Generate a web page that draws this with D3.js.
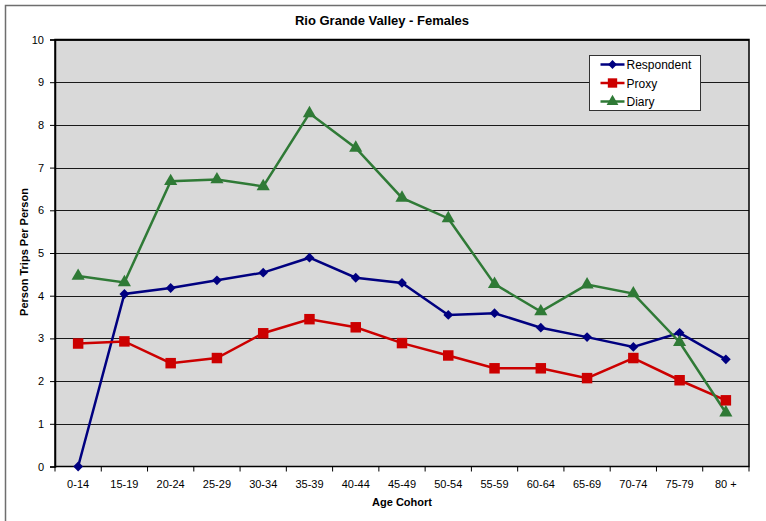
<!DOCTYPE html>
<html>
<head>
<meta charset="utf-8">
<script src="https://cdn.jsdelivr.net/npm/d3@7"></script>
<style>
  body { margin: 0; background: #fff; }
  text { font-family: "Liberation Sans", Arial, sans-serif; }
</style>
</head>
<body>
<div id="chart"></div>
<script>
var categories = ["0-14", "15-19", "20-24", "25-29", "30-34", "35-39", "40-44", "45-49", "50-54", "55-59", "60-64", "65-69", "70-74", "75-79", "80 +"];
var respondent = [0, 4.04, 4.18, 4.36, 4.54, 4.89, 4.42, 4.30, 3.55, 3.59, 3.25, 3.03, 2.80, 3.13, 2.51];
var proxy = [2.88, 2.93, 2.42, 2.54, 3.12, 3.45, 3.26, 2.89, 2.60, 2.30, 2.30, 2.07, 2.54, 2.02, 1.55];
var diary = [4.46, 4.31, 6.68, 6.72, 6.56, 8.27, 7.46, 6.29, 5.81, 4.27, 3.63, 4.26, 4.05, 2.91, 1.26];
var yTicks = [0, 1, 2, 3, 4, 5, 6, 7, 8, 9, 10];

// diamond = square turned 45 degrees
var series = [
    {name: "Respondent", values: respondent, color: "#000080", shape: d3.symbolSquare, size: 48, rot: 45},
    {name: "Proxy", values: proxy, color: "#cc0000", shape: d3.symbolSquare, size: 110, rot: 0},
    {name: "Diary", values: diary, color: "#2f7a36", shape: d3.symbolTriangle, size: 75, rot: 0}
];

var w = 766, h = 521;
var pLeft = 55, pRight = 749, pTop = 39.5, pBottom = 466.5;

var svg = d3.select("#chart")
    .append("svg")
    .attr("width", w)
    .attr("height", h);

// outer frame
svg.append("rect")
    .attr("x", 5.5).attr("y", 5.5)
    .attr("width", 800).attr("height", 600)
    .attr("fill", "#fff")
    .attr("stroke", "#6e6e6e")
    .attr("stroke-width", 1.5);

var x = d3.scaleBand().domain(categories).range([pLeft, pRight]);
var y = d3.scaleLinear().domain([0, 10]).range([pBottom, pTop]);

svg.append("rect")
    .attr("x", pLeft).attr("y", pTop)
    .attr("width", pRight - pLeft).attr("height", pBottom - pTop)
    .attr("fill", "#d9d9d9");

// gridlines
svg.selectAll(".grid")
    .data(yTicks.slice(1))
    .enter()
    .append("line")
    .attr("class", "grid")
    .attr("x1", pLeft).attr("x2", pRight)
    .attr("y1", function(d) { return Math.round(y(d)) + 0.5; })
    .attr("y2", function(d) { return Math.round(y(d)) + 0.5; })
    .attr("stroke", "#1a1a1a")
    .attr("stroke-width", 1.2);

// y axis
var yAxis = svg.append("g")
    .attr("transform", "translate(" + pLeft + ",0)")
    .call(d3.axisLeft(y).tickValues(yTicks).tickSize(5).tickPadding(6));
yAxis.select(".domain").attr("stroke", "#000").attr("stroke-width", 1.5);
yAxis.selectAll("text").attr("font-size", "11px").attr("fill", "#000")
    .style("font-family", "'Liberation Sans', Arial, sans-serif");

// x axis
var xAxis = svg.append("g")
    .attr("transform", "translate(0," + pBottom + ")")
    .call(d3.axisBottom(x).tickSize(0).tickPadding(14));
xAxis.select(".domain").remove();
xAxis.selectAll("text").attr("font-size", "11px").attr("fill", "#000")
    .style("font-family", "'Liberation Sans', Arial, sans-serif");

// x ticks at category boundaries
svg.selectAll(".xtick")
    .data(categories.concat(["end"]))
    .enter()
    .append("line")
    .attr("x1", function(d, i) { return pLeft + i * x.bandwidth(); })
    .attr("x2", function(d, i) { return pLeft + i * x.bandwidth(); })
    .attr("y1", pBottom).attr("y2", pBottom + 5)
    .attr("stroke", "#000");

// plot border
svg.append("rect")
    .attr("x", pLeft).attr("y", pTop)
    .attr("width", pRight - pLeft).attr("height", pBottom - pTop)
    .attr("fill", "none")
    .attr("stroke", "#000")
    .attr("stroke-width", 1.5);

// lines
var line = d3.line()
    .x(function(d, i) { return x(categories[i]) + x.bandwidth() / 2; })
    .y(function(d) { return y(d); });

series.forEach(function(s) {
    svg.append("path")
        .datum(s.values)
        .attr("d", line)
        .attr("fill", "none")
        .attr("stroke", s.color)
        .attr("stroke-width", 2.5);
});

series.forEach(function(s) {
    svg.selectAll(".m-" + s.name)
        .data(s.values)
        .enter()
        .append("path")
        .attr("d", d3.symbol().type(s.shape).size(s.size))
        .attr("transform", function(d, i) {
            return "translate(" + (x(categories[i]) + x.bandwidth() / 2) + "," + y(d) + ") rotate(" + s.rot + ")";
        })
        .attr("fill", s.color);
});

// title
svg.append("text")
    .attr("x", 382).attr("y", 25)
    .attr("text-anchor", "middle")
    .attr("font-size", "13px")
    .style("font-weight", "bold")
    .text("Rio Grande Valley - Females");

svg.append("text")
    .attr("x", 402).attr("y", 506)
    .attr("text-anchor", "middle")
    .attr("font-size", "11px")
    .style("font-weight", "bold")
    .text("Age Cohort");

svg.append("text")
    .attr("transform", "translate(28,252) rotate(-90)")
    .attr("text-anchor", "middle")
    .attr("font-size", "11px")
    .style("font-weight", "bold")
    .text("Person Trips Per Person");

// legend
var lg = svg.append("g").attr("transform", "translate(589.5,55.5)");
lg.append("rect")
    .attr("width", 111).attr("height", 55)
    .attr("fill", "#fff")
    .attr("stroke", "#333");
series.forEach(function(s, i) {
    var yy = 9 + i * 18.5;
    lg.append("line")
        .attr("x1", 11).attr("x2", 35)
        .attr("y1", yy).attr("y2", yy)
        .attr("stroke", s.color).attr("stroke-width", 2.5);
    lg.append("path")
        .attr("d", d3.symbol().type(s.shape).size(s.size * 0.8))
        .attr("transform", "translate(23," + yy + ") rotate(" + s.rot + ")")
        .attr("fill", s.color);
    lg.append("text")
        .attr("x", 37).attr("y", yy + 4.5)
        .attr("font-size", "12px")
        .text(s.name);
});
</script>
</body>
</html>
